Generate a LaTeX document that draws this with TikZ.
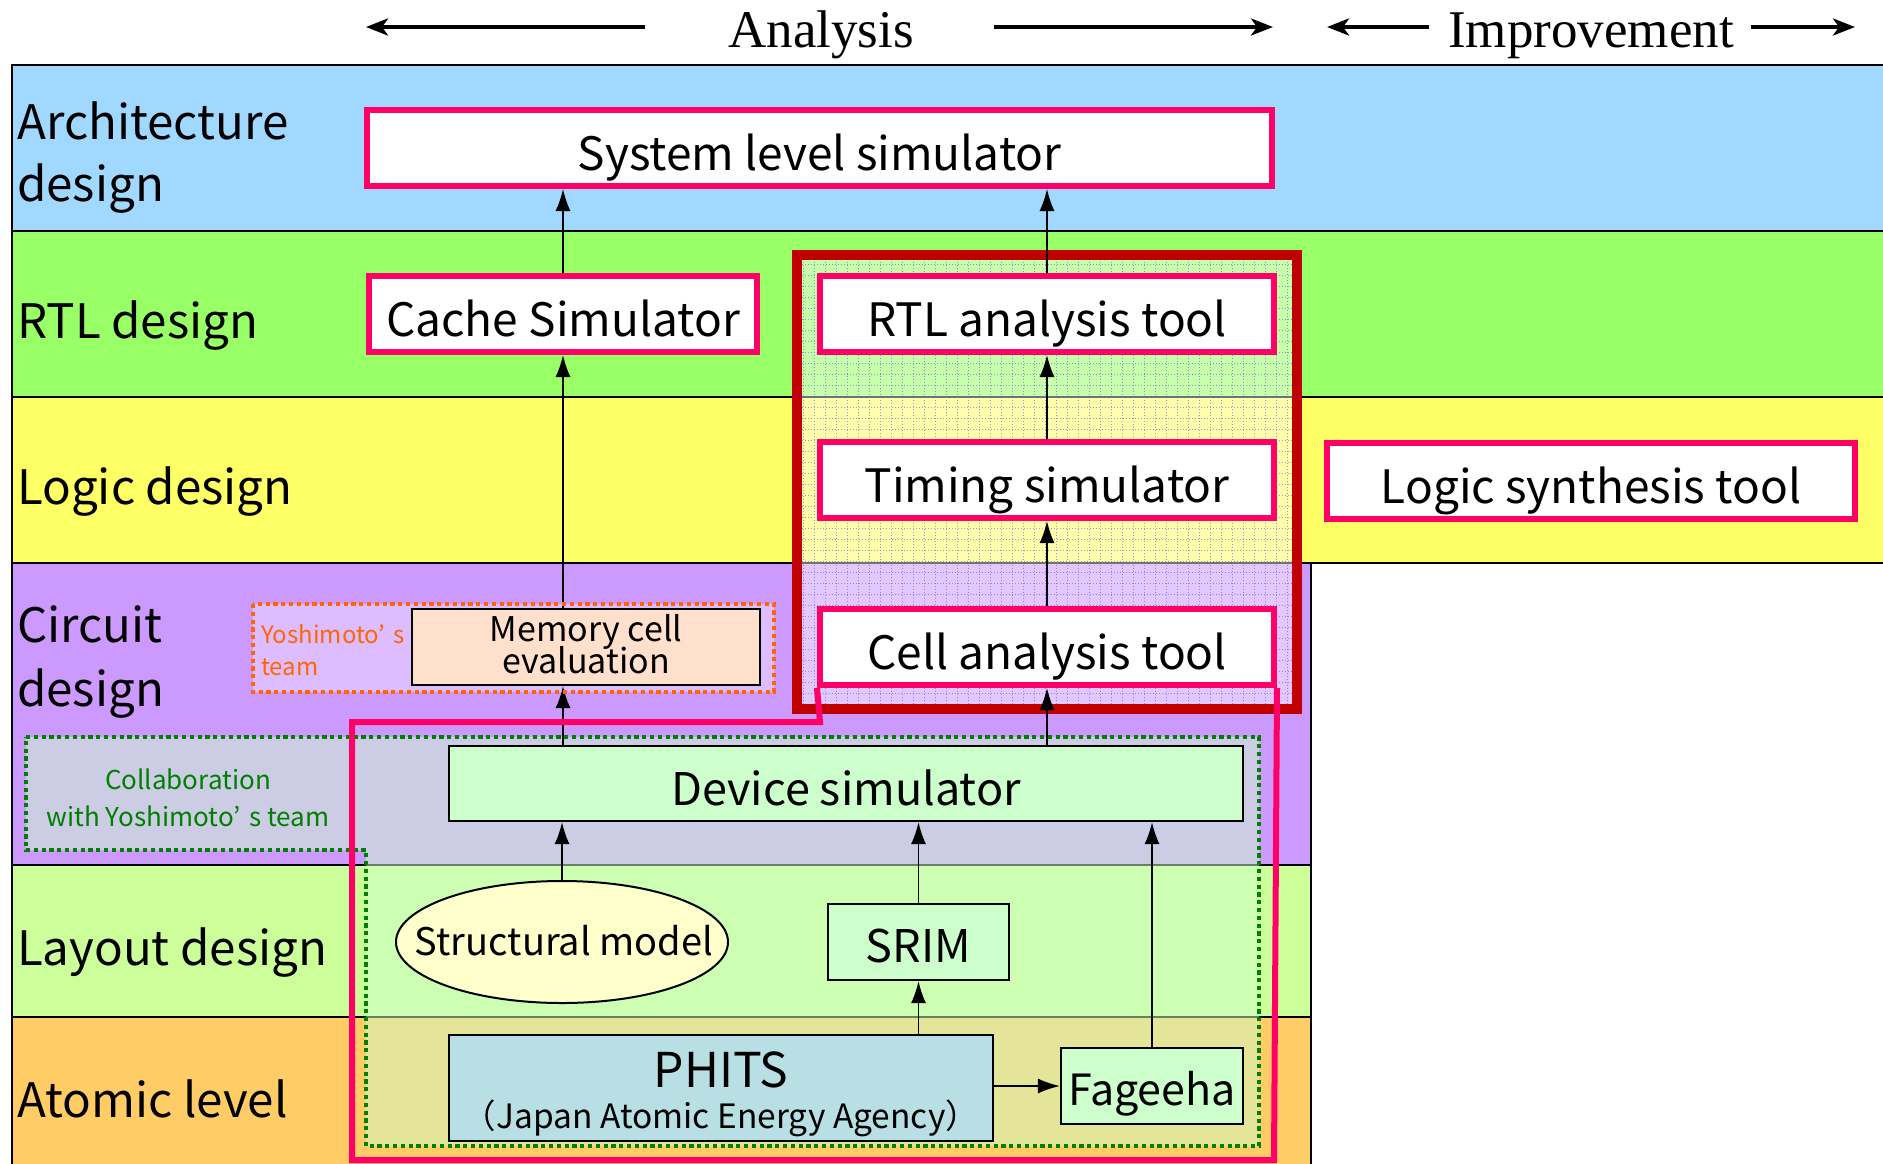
\documentclass[tikz,border=0pt]{standalone}
\usepackage{fontspec}
\setmainfont{Noto Sans CJK JP}
\newfontfamily\hdrfont{Liberation Serif}
\usetikzlibrary{arrows.meta,shapes.geometric}
\definecolor{archblue}{HTML}{A0D8FF}
\definecolor{rtlgreen}{HTML}{99FF66}
\definecolor{logicyellow}{HTML}{FFFF66}
\definecolor{circpurple}{HTML}{CC99FF}
\definecolor{laygreen}{HTML}{CCFF99}
\definecolor{atomorange}{HTML}{FFCC66}
\definecolor{pinkc}{HTML}{FF0066}
\definecolor{darkred}{HTML}{C00000}
\definecolor{yosho}{HTML}{FF6600}
\definecolor{collabg}{HTML}{008000}
\definecolor{peach}{HTML}{FFE0CC}
\definecolor{mint}{HTML}{CCFFCC}
\definecolor{phitsc}{HTML}{B8E0E4}
\definecolor{creamy}{HTML}{FFFFCC}
\definecolor{gridblue}{HTML}{5555EE}
\newcommand\myfs[1]{\fontsize{#1}{#1}\selectfont}
\newcommand\wq{’\hspace{0.35em}}
\begin{document}
\begin{tikzpicture}[x=1pt,y=-1pt,
 band/.style={draw=black,line width=2.5pt},
 pinkbox/.style={draw=pinkc,line width=6pt,fill=white,minimum width=454pt,minimum height=76pt,inner sep=0pt,font=\myfs{46},text height=44pt,text depth=0pt},
 blkbox/.style={draw=black,line width=2.2pt,inner sep=0pt},
 arr/.style={-{Latex[length=22pt,width=15pt]},line width=1.6pt},
 hdrarr/.style={-{Stealth[length=22pt,width=17pt,inset=6pt]},line width=4pt},
 lbl/.style={anchor=base west,inner sep=0pt,font=\myfs{47.5}},
 txt/.style={anchor=base,inner sep=0pt},
 dotline/.style={line width=4.6pt,dash pattern=on 4.2pt off 3.6pt}
]
\useasboundingbox (0,0) rectangle (1883,1163);
\clip (0,0) rectangle (1883,1163);
\fill[white] (0,0) rectangle (1883,1163);

% header
\node[font=\hdrfont\myfs{53},anchor=base,inner sep=0pt] (hA) at (821,47) {Analysis};
\node[font=\hdrfont\myfs{53},anchor=base,inner sep=0pt] (hI) at (1591,47) {Improvement};
\coordinate (aLt) at (645,27); \coordinate (aLh) at (366,27);
\coordinate (aRt) at (994,27); \coordinate (aRh) at (1273,27);
\coordinate (iLt) at (1429,27); \coordinate (iLh) at (1327,27);
\coordinate (iRt) at (1751,27); \coordinate (iRh) at (1855,27);
\draw[hdrarr] (aLt) -- (aLh);
\draw[hdrarr] (aRt) -- (aRh);
\draw[hdrarr] (iLt) -- (iLh);
\draw[hdrarr] (iRt) -- (iRh);

% bands
\draw[band,fill=archblue] (12,65) rectangle (1895,231);
\draw[band,fill=rtlgreen] (12,231) rectangle (1895,397);
\draw[band,fill=logicyellow] (12,397) rectangle (1895,563);
\draw[band,fill=circpurple] (12,563) rectangle (1311,865);
\draw[band,fill=laygreen] (12,865) rectangle (1311,1017);
\draw[band,fill=atomorange] (12,1017) rectangle (1311,1175);

% band labels
\node[lbl] (lArch1) at (17,139) {Architecture};
\node[lbl] (lArch2) at (17,201) {design};
\node[lbl] (lRTL) at (17,338) {RTL design};
\node[lbl] (lLogic) at (17,504) {Logic design};
\node[lbl] (lCirc1) at (17,642) {Circuit};
\node[lbl] (lCirc2) at (17,706) {design};
\node[lbl] (lLay) at (17,965) {Layout design};
\node[lbl] (lAtom) at (17,1117) {Atomic level};

% overlays
\fill[mint,fill opacity=0.5] (26,737) -- (1259,737) -- (1259,1146) -- (366,1146) -- (366,850) -- (26,850) -- cycle;
\fill[white,fill opacity=0.35] (253,604) rectangle (774,692);
\fill[white,fill opacity=0.45] (797,255) rectangle (1297,709);
\draw[gridblue,line width=0.8pt,dash pattern=on 1.2pt off 1.8pt,opacity=0.6,step=11pt] (802,260) grid (1292,704);

% red frame
\draw[darkred,line width=10pt] (797,255) rectangle (1297,709);

% boxes
\node[pinkbox,minimum width=905pt] (sys) at (819.5,148) {System level simulator};
\node[pinkbox,minimum width=388pt] (cache) at (563,314) {Cache Simulator};
\node[pinkbox] (rtl) at (1047,314) {RTL analysis tool};
\node[pinkbox] (timing) at (1047,480) {Timing simulator};
\node[pinkbox] (cell) at (1047,647) {Cell analysis tool};
\node[pinkbox,minimum width=528pt] (logsyn) at (1591,481) {Logic synthesis tool};

\node[blkbox,fill=peach,minimum width=348pt,minimum height=76pt] (mem) at (586,647) {};
\node[txt,font=\myfs{34}] (memt1) at (586,641) {Memory cell};
\node[txt,font=\myfs{34}] (memt2) at (586,673) {evaluation};

\node[blkbox,fill=mint,minimum width=794pt,minimum height=75pt,font=\myfs{45},text height=43pt,text depth=0pt] (dev) at (846,783.5) {Device simulator};

\node[ellipse,draw=black,line width=2pt,fill=creamy,minimum width=332pt,minimum height=122pt,inner sep=0pt] (struct) at (562,942) {};
\node[txt,font=\myfs{38}] (structt) at (564,955) {Structural model};

\node[blkbox,fill=mint,minimum width=181pt,minimum height=76pt,font=\myfs{45},text height=40pt,text depth=0pt] (srim) at (918.5,942) {SRIM};
\node[blkbox,fill=mint,minimum width=182pt,minimum height=76pt,font=\myfs{43},text height=38pt,text depth=0pt] (fag) at (1152,1086) {Fageeha};

\node[blkbox,fill=phitsc,minimum width=544pt,minimum height=106pt] (phits) at (721,1088) {};
\node[txt,font=\myfs{48}] (phitst1) at (721,1087) {PHITS};
\node[txt,font=\myfs{33.5}] (phitst2) at (721,1128) {（Japan Atomic Energy Agency）};

% team texts
\node[txt,font=\myfs{26},text=collabg] (col1) at (188,789) {Collaboration};
\node[txt,font=\myfs{26},text=collabg] (col2) at (188,826) {with Yoshimoto\wq s team};
\node[anchor=base west,inner sep=0pt,font=\myfs{24},text=yosho] (yo1) at (261,643) {Yoshimoto\wq s};
\node[anchor=base west,inner sep=0pt,font=\myfs{24},text=yosho] (yo2) at (261,675) {team};

% arrows
\draw[arr] (cache.north) -- (sys.south -| cache.north);
\draw[arr] (rtl.north) -- (sys.south -| rtl.north);
\draw[arr] (timing.north) -- (rtl.south);
\draw[arr] (cell.north) -- (timing.south);
\draw[arr] (dev.north -| cell.south) -- (cell.south);
\draw[arr] (mem.north -| cache.south) -- (cache.south);
\draw[arr] (dev.north -| cache.south) -- (mem.south -| cache.south);
\draw[arr] (struct.north) -- (dev.south -| struct.north);
\draw[arr] (srim.north) -- (dev.south -| srim.north);
\draw[arr] (fag.north) -- (dev.south -| fag.north);
\draw[arr] (phits.north -| srim.south) -- (srim.south);
\draw[arr] (phits.east |- fag.west) -- (fag.west);

% outlines
\draw[collabg,dotline] (26,737) -- (1259,737) -- (1259,1146) -- (366,1146) -- (366,850) -- (26,850) -- cycle;
\draw[yosho,dotline] (253,604) rectangle (774,692);
\draw[pinkc,line width=6pt] (cell.south west) -- (820,722) -- (352,722) -- (352,1160) -- (1274,1160) -- (cell.south east);
\end{tikzpicture}
\end{document}
